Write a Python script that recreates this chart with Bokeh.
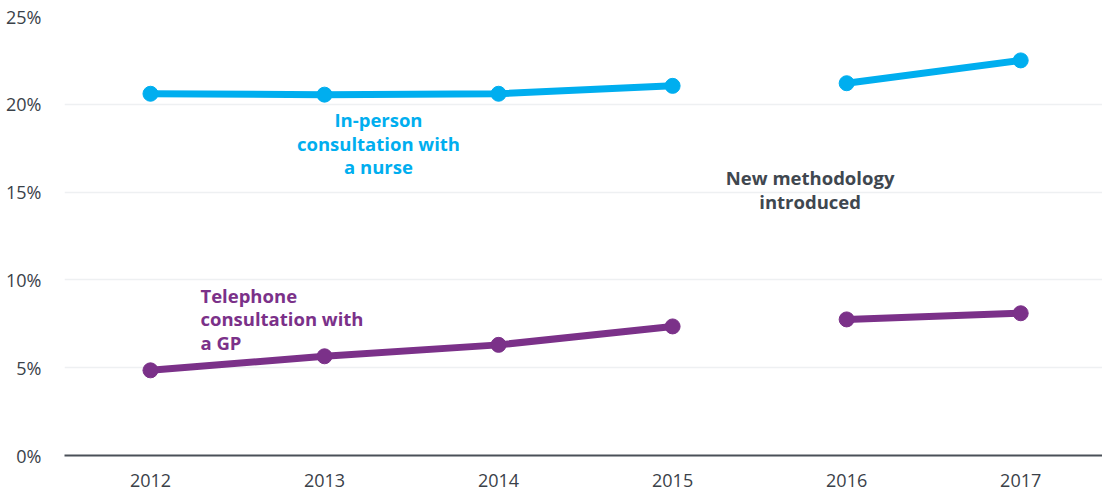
from bokeh.plotting import figure
from bokeh.models import ColumnDataSource, FixedTicker, Range1d
from bokeh.core.properties import value
from bokeh.embed import file_html
from bokeh.resources import INLINE

years = ["2012", "2013", "2014", "2015", "2016", "2017"]
in_person_nurse = [20.6, 20.55, 20.6, 21.05, 21.2, 22.5]
telephone_gp = [4.85, 5.65, 6.3, 7.35, 7.75, 8.1]
y_ticks = [0, 5, 10, 15, 20, 25]
y_tick_labels = ["0%", "5%", "10%", "15%", "20%", "25%"]

CYAN = "#00AEEF"
PURPLE = "#7B3189"
TEXT = "#3A4149"
FONT = "Open Sans"

xs = list(range(len(years)))

p = figure(width=1102, height=491, output_backend="svg", toolbar_location=None,
           x_range=Range1d(-0.494, 5.47), y_range=Range1d(0, 25),
           min_border_left=64, min_border_right=0, min_border_top=16, min_border_bottom=36)
p.outline_line_color = None
p.background_fill_color = "white"
p.border_fill_color = "white"

# axes
p.xaxis.ticker = FixedTicker(ticks=xs)
p.xaxis.major_label_overrides = {i: y for i, y in enumerate(years)}
p.yaxis.ticker = FixedTicker(ticks=y_ticks)
p.yaxis.major_label_overrides = {t: l for t, l in zip(y_ticks, y_tick_labels)}
for ax in (p.xaxis, p.yaxis):
    ax.major_tick_line_color = None
    ax.minor_tick_line_color = None
    ax.major_label_text_font = FONT
    ax.major_label_text_font_size = "18px"
    ax.major_label_text_color = TEXT
p.yaxis.axis_line_color = None
p.yaxis.major_label_standoff = 17
p.xaxis.axis_line_color = "#4A5058"
p.xaxis.axis_line_width = 2
p.xaxis.major_label_standoff = 12

p.xgrid.grid_line_color = None
p.ygrid.grid_line_color = "#EEF0F2"
p.ygrid.grid_line_width = 1.5

series = [(in_person_nurse, CYAN), (telephone_gp, PURPLE)]
for vals, col in series:
    for a, b in [(0, 4), (4, 6)]:
        src = ColumnDataSource(dict(x=xs[a:b], y=vals[a:b]))
        p.line("x", "y", source=src, line_color=col, line_width=7, line_cap="round")
        p.scatter("x", "y", source=src, size=15, fill_color=col, line_color=col)

# annotations
def add_lines(lines, x, y0, color, align):
    step = 23.5 / 17.56
    src = ColumnDataSource(dict(x=[x] * len(lines),
                                y=[y0 - i * step for i in range(len(lines))],
                                t=lines))
    p.text("x", "y", text="t", source=src, text_color=color, text_font=value(FONT),
           text_font_size="18.5px", text_font_style="bold", text_align=align,
           text_baseline="middle")

add_lines(["In-person", "consultation with", "a nurse"], 1.31, 19.12, CYAN, "center")
add_lines(["Telephone", "consultation with", "a GP"], 0.287, 9.12, PURPLE, "left")
add_lines(["New methodology", "introduced"], 3.79, 15.82, "#40474F", "center")

open("out.html", "w").write(file_html(p, INLINE))
